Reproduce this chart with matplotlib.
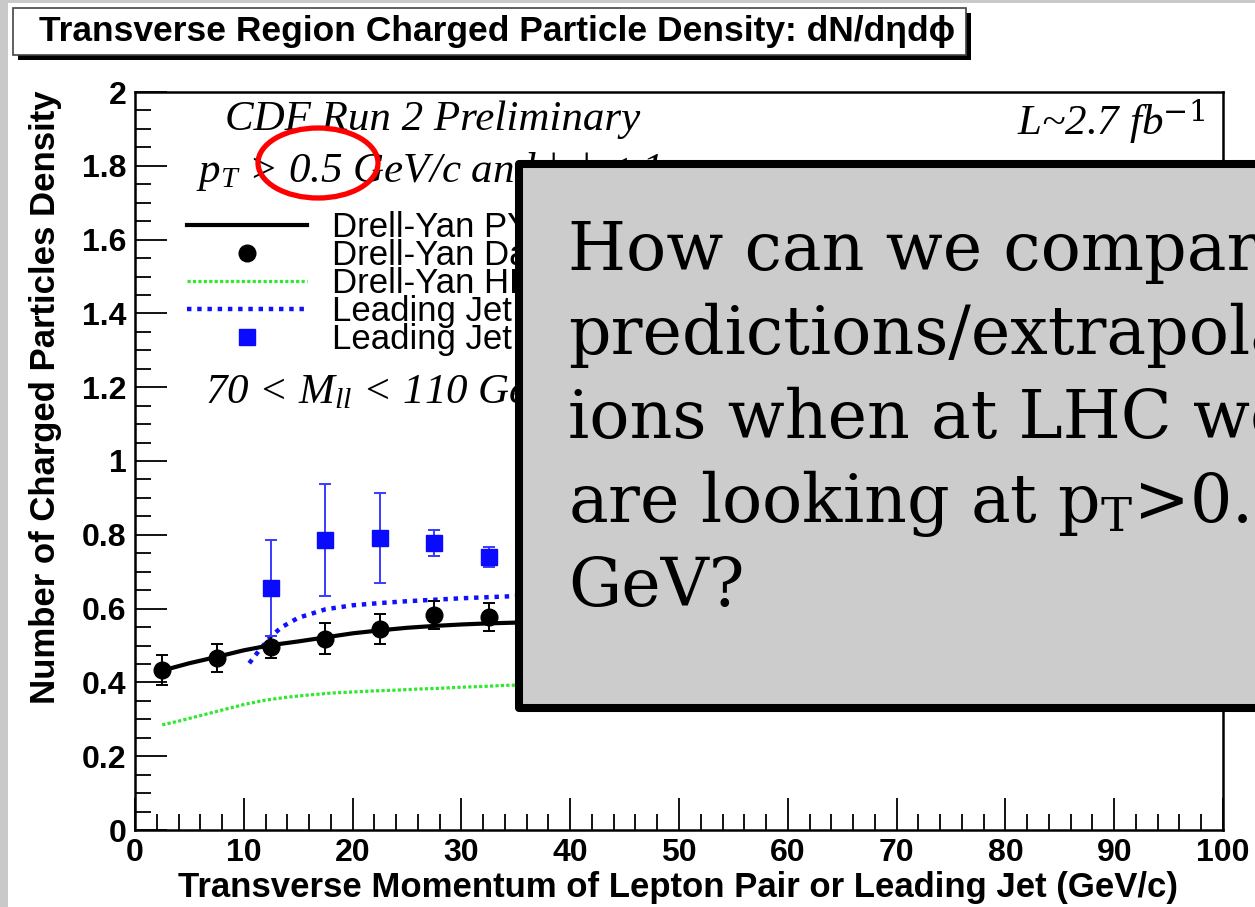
import matplotlib
matplotlib.use("Agg")
import matplotlib.pyplot as plt
from matplotlib.patches import Rectangle, Ellipse

# ---------------------------------------------------------------- data
# Drell-Yan data (black points) with errors
dy_data_x = [2.5, 7.5, 12.5, 17.5, 22.5, 27.5, 32.5]
dy_data_y = [0.434, 0.466, 0.496, 0.518, 0.545, 0.583, 0.577]
dy_data_err = [0.040, 0.038, 0.030, 0.042, 0.040, 0.037, 0.038]

# Leading-jet data (blue squares) with errors
jet_data_x = [12.5, 17.5, 22.5, 27.5, 32.5]
jet_data_y = [0.656, 0.786, 0.791, 0.778, 0.740]
jet_data_err = [0.131, 0.152, 0.122, 0.035, 0.027]

# Drell-Yan PYTHIA prediction (solid black)
dy_py_x = [2.5, 5, 7.5, 10, 12.5, 15, 17.5, 20, 22.5, 25, 27.5, 30, 32.5, 35, 37.5]
dy_py_y = [0.432, 0.452, 0.469, 0.487, 0.501, 0.511, 0.522, 0.533, 0.541,
           0.548, 0.553, 0.557, 0.560, 0.562, 0.564]

# Drell-Yan HERWIG prediction (green dotted)
dy_hw_x = [2.5, 4, 6, 8, 10, 12, 14, 16, 18, 20, 22, 24, 26, 28, 30, 32, 34, 36, 38]
dy_hw_y = [0.285, 0.295, 0.310, 0.325, 0.340, 0.352, 0.360, 0.366, 0.371, 0.374,
           0.377, 0.379, 0.382, 0.384, 0.387, 0.389, 0.392, 0.393, 0.394]

# Leading-jet PYTHIA prediction (blue dotted)
jet_py_x = [10.5, 11.5, 12.5, 13.5, 15, 17.5, 20, 22.5, 25, 27.5, 30, 32.5, 35, 37.5]
jet_py_y = [0.452, 0.490, 0.525, 0.550, 0.575, 0.598, 0.609, 0.615, 0.620,
            0.624, 0.628, 0.631, 0.634, 0.636]

legend_labels = ["Drell-Yan PYTHIA Tune AW", "Drell-Yan Data", "Drell-Yan HERWIG",
                 "Leading Jet PYTHIA Tune A", "Leading Jet Data"]

x_ticks = [0, 10, 20, 30, 40, 50, 60, 70, 80, 90, 100]
x_tick_labels = ["0", "10", "20", "30", "40", "50", "60", "70", "80", "90", "100"]
y_ticks = [0, 0.2, 0.4, 0.6, 0.8, 1.0, 1.2, 1.4, 1.6, 1.8, 2.0]
y_tick_labels = ["0", "0.2", "0.4", "0.6", "0.8", "1", "1.2", "1.4", "1.6", "1.8", "2"]

box_lines = ["How can we compare",
             "predictions/extrapolat",
             "ions when at LHC we",
             r"are looking at $\mathrm{p}_\mathrm{T}$>0.9",
             "GeV?"]

# ---------------------------------------------------------------- style
W, H = 1255, 907
plt.rcParams["font.family"] = ["Liberation Sans", "DejaVu Sans"]
plt.rcParams["mathtext.fontset"] = "custom"
plt.rcParams["mathtext.rm"] = "DejaVu Serif"
plt.rcParams["mathtext.it"] = "Liberation Serif:italic"


def fx(px):
    return px / W


def fy(py):
    return 1.0 - py / H


def pt(px):
    return px * 0.72


fig = plt.figure(figsize=(W / 100, H / 100), dpi=100, facecolor="#c9c9c9")

# white page
fig.patches.append(Rectangle((fx(8), 0), 1.0, fy(3), transform=fig.transFigure,
                             facecolor="white", edgecolor="none", zorder=-5))

# ---------------------------------------------------------------- axes
ax = fig.add_axes([fx(135), fy(830), fx(1223) - fx(135), fy(92) - fy(830)])
ax.set_xlim(0, 100)
ax.set_ylim(0, 2)
for s in ax.spines.values():
    s.set_linewidth(1.8)

ax.set_xticks(x_ticks)
ax.set_xticklabels(x_tick_labels)
ax.set_yticks(y_ticks)
ax.set_yticklabels(y_tick_labels)
ax.set_xticks([v for v in range(0, 101, 2)], minor=True)
ax.set_yticks([i * 0.05 for i in range(41)], minor=True)
ax.tick_params(which="both", direction="in", top=False, right=False, width=1.3)
ax.tick_params(which="major", length=pt(32), labelsize=23, pad=6)
ax.tick_params(which="minor", length=pt(16))
for lbl in ax.get_xticklabels() + ax.get_yticklabels():
    lbl.set_fontweight("bold")

# curves
ax.plot(dy_hw_x, dy_hw_y, color="#2fe82f", lw=2.3, ls=(0, (1.0, 0.7)), zorder=2)
ax.plot(jet_py_x, jet_py_y, color="#1010ff", lw=3.2, ls=(0, (1.0, 1.3)), zorder=2)
ax.plot(dy_py_x, dy_py_y, color="black", lw=3.0, zorder=3)

# data
ax.errorbar(dy_data_x, dy_data_y, yerr=dy_data_err, fmt="o", color="black",
            ms=12, elinewidth=1.4, capsize=4, capthick=1.4, zorder=4)
ax.errorbar(jet_data_x, jet_data_y, yerr=jet_data_err, fmt="s", color="#0a0aff",
            ecolor="#3a3aff", ms=12, elinewidth=1.4, capsize=4, capthick=1.4, zorder=4)

# legend, drawn row by row
row0, pitch = 225, 28
samp_x0, samp_x1, samp_xm, text_x = 187, 307, 247, 332
styles = [
    dict(color="black", lw=3.0),
    dict(color="black", marker="o", ms=12, ls="none"),
    dict(color="#2fe82f", lw=2.3, ls=(0, (1.0, 0.7))),
    dict(color="#1010ff", lw=3.2, ls=(0, (1.0, 1.3))),
    dict(color="#0a0aff", marker="s", ms=12, ls="none"),
]
for i, (lab, st) in enumerate(zip(legend_labels, styles)):
    yy = fy(row0 + i * pitch)
    if st.get("ls") == "none":
        fig.add_artist(plt.Line2D([fx(samp_xm)], [yy], transform=fig.transFigure, **st))
    else:
        fig.add_artist(plt.Line2D([fx(samp_x0), fx(samp_x1)], [yy, yy],
                                  transform=fig.transFigure, **st))
    fig.text(fx(text_x), fy(row0 + i * pitch + 12), lab, fontsize=25,
             ha="left", va="baseline")

# axis titles
fig.text(fx(678), fy(888), "Transverse Momentum of Lepton Pair or Leading Jet (GeV/c)",
         fontsize=25, fontweight="bold", ha="center", va="center")
fig.text(fx(46), fy(90), "Number of Charged Particles Density", fontsize=25,
         fontweight="bold", rotation=90, ha="center", va="top")

# serif annotations
serif = dict(family="Liberation Serif", style="italic", fontsize=31)
fig.text(fx(225), fy(130), "CDF Run 2 Preliminary", ha="left", va="baseline", **serif)
fig.text(fx(196), fy(182), r"$p_T$ > 0.5 GeV/c and |η| < 1", ha="left",
         va="baseline", **serif)
fig.text(fx(205), fy(403), r"70 < $M_{ll}$ < 110 GeV", ha="left", va="baseline", **serif)
fig.text(fx(1017), fy(135), r"L~2.7 fb$^{\mathit{-1}}$", ha="left", va="baseline", **serif)

# highlight ring
fig.patches.append(Ellipse((fx(318), fy(163)), fx(120), 70 / H, transform=fig.transFigure,
                           facecolor="none", edgecolor="#ff0000", lw=3.8, zorder=8))

# title banner with shadow
fig.patches.append(Rectangle((fx(18), fy(60)), fx(966 - 13), (55 - 8) / H,
                             transform=fig.transFigure, facecolor="black",
                             edgecolor="none", zorder=5))
fig.patches.append(Rectangle((fx(13), fy(55)), fx(966 - 13), (55 - 8) / H,
                             transform=fig.transFigure, facecolor="white",
                             edgecolor="#444444", lw=1.2, zorder=6))
fig.text(fx(497), fy(32), "Transverse Region Charged Particle Density: dN/dηdϕ",
         fontsize=25.5, fontweight="bold", ha="center", va="center", zorder=7)

# question box
fig.patches.append(Rectangle((fx(519), fy(708)), fx(900), (708 - 164) / H,
                             transform=fig.transFigure, facecolor="#cccccc",
                             edgecolor="black", lw=5.8, joinstyle="round", zorder=20))
for i, line in enumerate(box_lines):
    fig.text(fx(568), fy(270 + i * 84), line, family="DejaVu Serif", fontsize=48,
             ha="left", va="baseline", zorder=21)

fig.savefig("out.png", dpi=100, facecolor=fig.get_facecolor())
